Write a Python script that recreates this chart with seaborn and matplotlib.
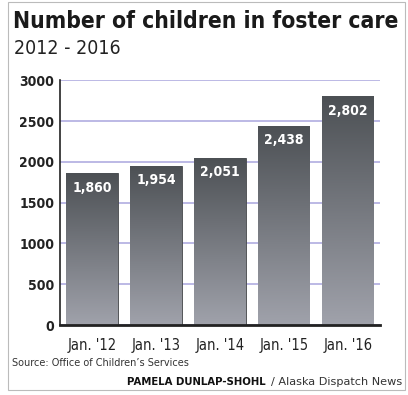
import numpy as np
import pandas as pd
import matplotlib
matplotlib.use("Agg")
import matplotlib.pyplot as plt
import seaborn as sns
from matplotlib.patches import Rectangle

# data read from the clipping
periods = ["Jan. '12", "Jan. '13", "Jan. '14", "Jan. '15", "Jan. '16"]
children = [1860, 1954, 2051, 2438, 2802]
value_labels = ["1,860", "1,954", "2,051", "2,438", "2,802"]
yticks = [0, 500, 1000, 1500, 2000, 2500, 3000]

df = pd.DataFrame({"period": periods, "children": children})

sns.set_style("white")
plt.rcParams['font.family'] = ['DejaVu Sans']
plt.rcParams['font.stretch'] = 'condensed'

fig = plt.figure(figsize=(4.08, 3.95), dpi=100)
ax = fig.add_axes([0.147, 0.177, 0.784, 0.620])

sns.barplot(data=df, x="period", y="children", color="#777777",
            width=0.8, ax=ax, zorder=2)

# gradient fill: dark at top, lighter at bottom
grad = np.linspace(0, 1, 256).reshape(-1, 1)
cmap = matplotlib.colors.LinearSegmentedColormap.from_list("g", ["#a0a2ab", "#4c5054"])
for p in ax.patches:
    x0, w, h = p.get_x(), p.get_width(), p.get_height()
    im = ax.imshow(grad, extent=[x0, x0 + w, 0, h], origin="lower",
                   cmap=cmap, aspect="auto", zorder=2)
    im.set_clip_path(p)
    p.set_edgecolor("#44474a")
    p.set_linewidth(0.6)

for i, (v, lab) in enumerate(zip(children, value_labels)):
    ax.text(i, v - 90, lab, ha="center", va="top", color="white",
            fontsize=10, fontweight="bold", fontstretch="condensed", zorder=3)

ax.set_xlim(-0.5, 4.5)
ax.set_ylim(0, 3000)
ax.set_yticks(yticks)
ax.yaxis.grid(True, color="#aaa6de", linewidth=1.1, zorder=0)
ax.set_axisbelow(True)
ax.set_xlabel("")
ax.set_ylabel("")
ax.tick_params(axis="y", length=0, pad=4, labelsize=10)
ax.tick_params(axis="x", length=0, pad=9, labelsize=10.5)
for lab in ax.get_yticklabels():
    lab.set_fontweight("bold")
    lab.set_color("#222222")
    lab.set_fontstretch("condensed")
for lab in ax.get_xticklabels():
    lab.set_color("#222222")
    lab.set_fontstretch("condensed")
for s in ["top", "right"]:
    ax.spines[s].set_visible(False)
ax.spines["left"].set_color("#222222")
ax.spines["left"].set_linewidth(1.2)
ax.spines["bottom"].set_color("#222222")
ax.spines["bottom"].set_linewidth(2)

fig.text(0.032, 0.929, "Number of children in foster care", fontsize=16.4,
         fontweight="bold", fontstretch="condensed", color="#1a1a1a",
         va="baseline")
fig.text(0.034, 0.863, "2012 - 2016", fontsize=14, fontstretch="condensed",
         color="#222222", va="baseline")
fig.text(0.03, 0.081, "Source: Office of Children\u2019s Services", fontsize=7,
         fontstretch="normal", color="#333333", va="center")
fig.text(0.652, 0.033, "PAMELA DUNLAP-SHOHL", fontsize=7.3, fontweight="bold",
         fontstretch="normal", color="#111111", ha="right", va="center")
fig.text(0.986, 0.033, "/ Alaska Dispatch News", fontsize=8.1,
         fontstretch="normal", color="#333333", ha="right", va="center")

# thin frame around the graphic
fig.add_artist(Rectangle((0.02, 0.012), 0.973, 0.983, transform=fig.transFigure,
                         fill=False, edgecolor="#bbbbbb", linewidth=0.8))

fig.savefig("out.png", dpi=100, facecolor="white")
